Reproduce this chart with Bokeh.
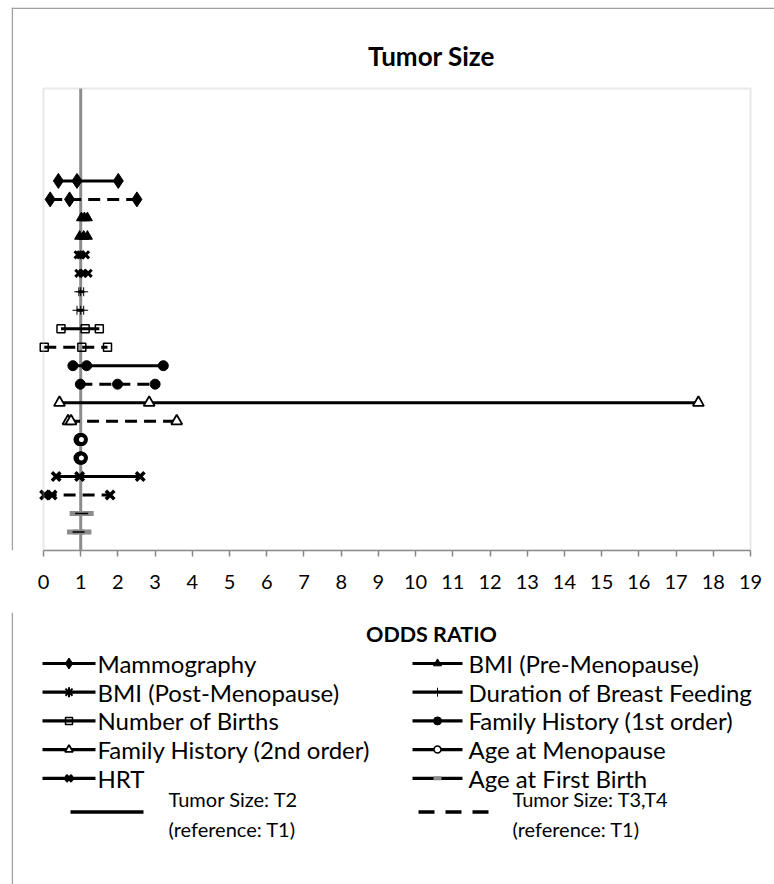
from bokeh.plotting import figure
from bokeh.layouts import column
from bokeh.models import Range1d, Span, BoxAnnotation, FixedTicker, ColumnDataSource, Label
from bokeh.core.properties import value
from bokeh.embed import file_html
from bokeh.resources import INLINE

# ---- data: odds ratios with lower / upper confidence limits ----
variables = [
    "Mammography", "BMI (Pre-Menopause)", "BMI (Post-Menopause)",
    "Duration of Breast Feeding", "Number of Births",
    "Family History (1st order)", "Family History (2nd order)",
    "Age at Menopause", "HRT", "Age at First Birth",
]
# Tumor size T2 vs T1
t2_low = [0.40, 1.02, 0.93, 0.95, 0.47, 0.79, 0.43, 0.98, 0.34, 0.85]
t2_or = [0.90, 1.10, 1.00, 1.00, 1.12, 1.16, 2.84, 1.00, 0.97, 1.00]
t2_high = [2.01, 1.18, 1.13, 1.08, 1.50, 3.22, 17.60, 1.02, 2.60, 1.20]
# Tumor size T3,T4 vs T1
t34_low = [0.18, 0.97, 0.95, 0.90, 0.02, 0.99, 0.66, 0.98, 0.03, 0.78]
t34_or = [0.70, 1.08, 1.05, 1.00, 1.03, 1.99, 0.74, 1.00, 0.23, 0.95]
t34_high = [2.51, 1.18, 1.20, 1.08, 1.72, 3.00, 3.58, 1.02, 1.79, 1.14]

x_ticks = list(range(0, 20))
x_min, x_max = 0, 19
n_slots = 25          # vertical slots in the plot area (rows use 1..20)
reference_or = 1
chart_title = "Tumor Size"
x_title = "ODDS RATIO"
series_labels = ["Tumor Size: T2\n(reference: T1)", "Tumor Size: T3,T4\n(reference: T1)"]

FONT = "Lato"
BORDER = "#a0a0a0"

# ---- page geometry (pixels) ----
W, H1, H_TOTAL = 774, 612, 884
CHART_L, CHART_T = 11, 7                      # outer chart border
AREA_L, AREA_R, AREA_T, AREA_B = 43, 750, 88, 550
TEXT_CX = 431                                 # centre line of the chart texts
PXX = (AREA_R - AREA_L) / (x_max - x_min)
PXY = (AREA_B - AREA_T) / n_slots
xr0 = x_min - (AREA_L - CHART_L) / PXX
xr1 = x_max + (W - AREA_R) / PXX
yr1 = (AREA_B - CHART_T) / PXY

# marker style for each variable
styles = [
    dict(marker="diamond", size=15, fill_color="black", line_color="black", line_width=1),
    dict(marker="triangle", size=10, fill_color="black", line_color="black", line_width=1),
    dict(marker="x", size=10, fill_color="black", line_color="black", line_width=3),
    dict(marker="cross", size=9, fill_color="black", line_color="black", line_width=1),
    dict(marker="square", size=8, fill_color=None, line_color="black", line_width=1.5),
    dict(marker="circle", size=10, fill_color="black", line_color="black", line_width=1),
    dict(marker="triangle", size=11, fill_color="white", line_color="black", line_width=1.8),
    dict(marker="circle", size=9, fill_color="white", line_color="black", line_width=4),
    dict(marker="x", size=12, fill_color="black", line_color="black", line_width=3.5),
    dict(marker="dash", size=11, fill_color="#8c8c8c", line_color="#8c8c8c", line_width=5),
]

# ---- main forest plot ----
p = figure(width=W, height=H1, output_backend="svg", toolbar_location=None,
           x_range=Range1d(xr0, xr1), y_range=Range1d(0, yr1),
           min_border_left=CHART_L, min_border_right=0, min_border_top=CHART_T,
           min_border_bottom=H1 - AREA_B)
p.yaxis.visible = False
p.xgrid.visible = False
p.ygrid.visible = False
p.outline_line_color = None

ax = p.xaxis[0]
ax.bounds = (x_min, x_max)
ax.ticker = FixedTicker(ticks=x_ticks)
ax.axis_line_color = "#868686"
ax.axis_line_width = 1.5
ax.major_tick_line_color = "#868686"
ax.major_tick_line_width = 1.5
ax.major_tick_in = 0
ax.major_tick_out = 6
ax.minor_tick_line_color = None
ax.major_label_text_font = FONT
ax.major_label_text_font_size = "20px"
ax.major_label_text_color = "black"
ax.major_label_standoff = 18

# outer chart border (left and top edges)
p.add_layout(Span(location=xr0 + 0.8 / PXX, dimension="height", line_color=BORDER, line_width=1.5))
p.add_layout(Span(location=yr1 - 0.8 / PXY, dimension="width", line_color=BORDER, line_width=1.5))

# plot area box
p.add_layout(BoxAnnotation(left=x_min, right=x_max, bottom=0, top=n_slots,
                           fill_alpha=0, line_color="#b4b4b4", line_width=2))

# title
p.add_layout(Label(x=(TEXT_CX - AREA_L) / PXX, y=(AREA_B - 55) / PXY, text=chart_title,
                   text_align="center", text_baseline="middle", text_font=FONT,
                   text_font_size="26px", text_font_style="bold", text_color="black"))

# reference line at OR = 1
p.line([reference_or, reference_or], [0, n_slots], line_color="#8c8c8c", line_width=3)

n = len(variables)
for i in range(n):
    st = dict(styles[i])
    mk = st.pop("marker")
    for lows, ors, highs, dash, yoff in ((t2_low, t2_or, t2_high, "solid", 0),
                                          (t34_low, t34_or, t34_high, "12 7", 1)):
        y = 2 * (n - i) - yoff
        thin = (i == n - 1)
        src = ColumnDataSource(dict(x=[lows[i], ors[i], highs[i]], y=[y, y, y]))
        if not thin:
            p.line("x", "y", source=src, line_color="black", line_width=3, line_dash=dash)
        p.scatter("x", "y", source=src, marker=mk, **st)
        if thin:
            p.line("x", "y", source=src, line_color="black", line_width=1.5, line_dash=dash)

# ---- axis title and legend panel, coordinates in page pixels ----
H2 = H_TOTAL - H1
lg = figure(width=W, height=H2, output_backend="svg", toolbar_location=None,
            x_range=Range1d(CHART_L, W), y_range=Range1d(H_TOTAL, H1),
            min_border_left=CHART_L, min_border_right=0, min_border_top=0, min_border_bottom=0,
            x_axis_type=None, y_axis_type=None)
lg.xgrid.visible = False
lg.ygrid.visible = False
lg.outline_line_color = None
lg.add_layout(Span(location=CHART_L + 0.8, dimension="height", line_color=BORDER, line_width=1.5))

lg.text([TEXT_CX], [633], text=[x_title], text_font=value(FONT), text_font_size="21.5px",
        text_font_style="bold", text_baseline="middle", text_align="center", text_color="black")

legend_sizes = [11, 8, 10, 9, 7, 8, 8, 7, 9, 8]
col_x = [(42, 95, 97), (412, 462, 468)]
row_y0, row_dy = 663, 28.7
for i, name in enumerate(variables):
    c, r = i % 2, i // 2
    x0, x1, tx = col_x[c]
    y = row_y0 + r * row_dy
    lg.line([x0, x1], [y, y], line_color="black", line_width=3.2)
    st = dict(styles[i])
    mk = st.pop("marker")
    st["size"] = legend_sizes[i]
    if i == 2:
        mk, st["line_width"] = "asterisk", 2
    if mk == "dash":
        st["line_width"] = 4
    if mk == "circle" and st["fill_color"] == "white":
        st["line_width"] = 1.5
    lg.scatter([(x0 + x1) / 2], [y], marker=mk, **st)
    lg.text([tx], [y], text=[name], text_font=value(FONT), text_font_size="24px",
            text_baseline="middle", text_align="left", text_color="black")

# series key (solid = T2, dashed = T3,T4)
key_y = row_y0 + 5 * row_dy
key = [(70, 143, 168, "solid"), (418, 488, 512, "16 11")]
for (x0, x1, tx, dash), lab in zip(key, series_labels):
    lg.line([x0, x1], [key_y + 5, key_y + 5], line_color="black", line_width=3.5, line_dash=dash)
    for k, part in enumerate(lab.split("\n")):
        lg.text([tx], [key_y - 8 + k * 30], text=[part], text_font=value(FONT),
                text_font_size="20px", text_baseline="middle", text_align="left",
                text_color="black")

layout = column(p, lg, spacing=0)
open("out.html", "w").write(file_html(layout, INLINE))
